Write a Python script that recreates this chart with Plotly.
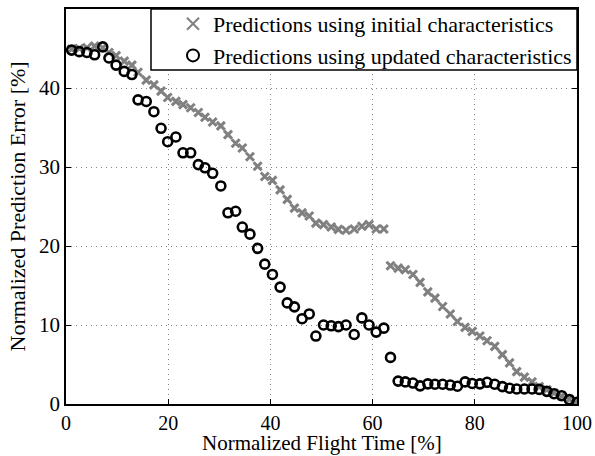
import plotly.graph_objects as go

flight_time = [1.1, 2.6, 4.1, 5.6, 7.2, 8.4, 9.8, 11.4, 12.9, 14.1, 15.7, 17.2, 18.6, 19.9, 21.5,
               22.9, 24.4, 25.9, 27.2, 28.7, 30.3, 31.7, 33.2, 34.5, 36.0, 37.5, 38.9, 40.4, 41.9,
               43.3, 44.7, 46.2, 47.6, 48.9, 50.4, 51.9, 53.3, 54.8, 56.4, 57.9, 59.3, 60.7, 62.2,
               63.5, 65.0, 66.4, 67.9, 69.3, 70.8, 72.2, 73.7, 75.2, 76.6, 78.1, 79.5, 81.0, 82.4,
               83.9, 85.4, 86.8, 88.2, 89.7, 91.2, 92.6, 94.1, 95.5, 97.0, 98.5, 100.0]

error_initial = [44.9, 45.0, 45.1, 45.3, 45.1, 44.5, 44.1, 43.4, 42.9, 42.0, 41.0, 40.4, 39.6, 38.8, 38.3,
                 37.9, 37.5, 36.9, 36.3, 35.7, 35.2, 34.1, 33.0, 32.4, 31.3, 30.1, 28.8, 28.3, 27.1,
                 25.9, 24.8, 24.2, 23.8, 22.9, 22.7, 22.4, 22.1, 22.0, 22.15, 22.5, 22.7, 22.15, 22.15,
                 17.5, 17.2, 17.0, 16.4, 15.4, 14.2, 13.4, 12.35, 11.4, 10.45, 9.7, 9.2, 8.6, 8.0,
                 7.3, 6.25, 5.2, 4.1, 3.4, 2.8, 2.2, 1.8, 1.4, 1.0, 0.6, 0.25]

error_updated = [44.8, 44.6, 44.5, 44.2, 45.2, 43.8, 42.9, 42.1, 41.7, 38.5, 38.3, 37.0, 34.9, 33.2, 33.8,
                 31.8, 31.8, 30.3, 29.9, 29.2, 27.6, 24.2, 24.4, 22.4, 21.5, 19.7, 17.7, 16.4, 14.8,
                 12.8, 12.3, 10.8, 11.4, 8.6, 10.0, 9.9, 9.8, 10.0, 8.8, 10.9, 10.0, 9.1, 9.6,
                 5.9, 2.9, 2.8, 2.65, 2.3, 2.55, 2.5, 2.5, 2.4, 2.25, 2.8, 2.6, 2.55, 2.75,
                 2.5, 2.2, 2.0, 1.9, 1.9, 1.9, 1.85, 1.6, 1.3, 1.05, 0.55, 0.2]

x_ticks = [0, 20, 40, 60, 80, 100]
y_ticks = [0, 10, 20, 30, 40, 50]

x_title = "Normalized Flight Time [%]"
y_title = "Normalized Prediction Error [%]"

FONT = "Times New Roman"
W, H = 595, 456
ML, MR, MT, MB = 66, 18, 9, 52
PW, PH = W - ML - MR, H - MT - MB

fig = go.Figure()
fig.add_trace(go.Scatter(
    x=flight_time, y=error_initial, mode="markers",
    name="Predictions using initial characteristics",
    marker=dict(symbol="x-thin", size=8, color="rgb(128,128,128)",
                line=dict(color="rgb(128,128,128)", width=3)),
))
fig.add_trace(go.Scatter(
    x=flight_time, y=error_updated, mode="markers",
    name="Predictions using updated characteristics",
    marker=dict(symbol="circle-open", size=9, color="black",
                line=dict(color="black", width=2.6)),
))

axis_common = dict(
    showline=True, linecolor="black", linewidth=1.5, mirror="ticks",
    ticks="inside", ticklen=5, tickwidth=1, tickcolor="black",
    showgrid=True, gridcolor="rgb(130,130,130)", gridwidth=1, griddash="1px,4px",
    zeroline=False, automargin=False,
)

# legend frame (drawn as a shape so it hugs the entries like the reference)
legend_left_px, legend_bottom_px = 151, 70

fig.update_layout(
    width=W, height=H,
    margin=dict(l=ML, r=MR, t=MT, b=MB, autoexpand=False),
    paper_bgcolor="white", plot_bgcolor="white",
    font=dict(family=FONT, size=21, color="black"),
    xaxis=dict(range=[0, 100], tickvals=x_ticks, ticktext=[str(v) for v in x_ticks],
               tickfont=dict(family=FONT, size=20, color="black"), **axis_common),
    yaxis=dict(range=[0, 50], tickvals=y_ticks, ticktext=[str(v) for v in y_ticks],
               tickfont=dict(family=FONT, size=21, color="black"), **axis_common),
    legend=dict(x=1, y=1 + 6 / PH, xanchor="right", yanchor="top",
                bgcolor="rgba(0,0,0,0)", borderwidth=0,
                font=dict(family=FONT, size=22, color="black"),
                tracegroupgap=0, itemsizing="constant", indentation=20),
    showlegend=True,
    shapes=[
        dict(type="rect", xref="paper", yref="paper",
             x0=(legend_left_px - ML) / PW, x1=1,
             y0=1 - (legend_bottom_px - MT) / PH, y1=1,
             fillcolor="white", line=dict(color="black", width=1.5), layer="above"),
    ],
    annotations=[
        dict(text=x_title, xref="paper", yref="paper", x=0.5, y=-(443 - (MT + PH)) / PH,
             xanchor="center", yanchor="middle", showarrow=False,
             font=dict(family=FONT, size=21, color="black")),
        dict(text=y_title, xref="paper", yref="paper", x=-(ML - 17) / PW, y=0.5,
             xanchor="center", yanchor="middle", showarrow=False, textangle=-90,
             font=dict(family=FONT, size=22, color="black")),
    ],
)

fig.write_html("out.html")
